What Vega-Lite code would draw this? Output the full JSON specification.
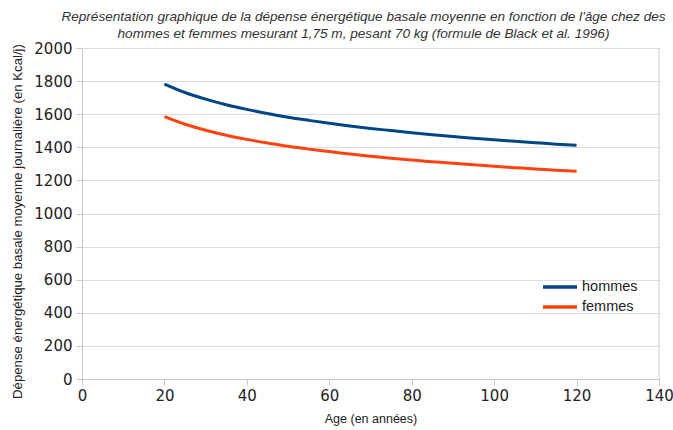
{
  "$schema": "https://vega.github.io/schema/vega-lite/v6.json",
  "width": 577,
  "height": 331,
  "autosize": {"type": "none"},
  "padding": {"left": 82, "top": 48, "right": 14, "bottom": 51},
  "background": "white",
  "title": {
    "text": ["Représentation graphique de la dépense énergétique basale moyenne en fonction de l'âge chez des", "hommes et femmes mesurant 1,75 m, pesant 70 kg (formule de Black et al. 1996)"],
    "font": "Liberation Sans",
    "fontSize": 13.6,
    "fontStyle": "italic",
    "fontWeight": "normal",
    "color": "#333333",
    "anchor": "middle",
    "offset": 0,
    "lineHeight": 17,
    "dx": -7
  },
  "config": {
    "view": {"stroke": null},
    "font": "Liberation Sans"
  },
  "data": {
    "values": [
      {"age": 20, "sexe": "hommes", "depense": 1782},
      {"age": 25, "sexe": "hommes", "depense": 1731},
      {"age": 30, "sexe": "hommes", "depense": 1691},
      {"age": 35, "sexe": "hommes", "depense": 1657},
      {"age": 40, "sexe": "hommes", "depense": 1629},
      {"age": 45, "sexe": "hommes", "depense": 1604},
      {"age": 50, "sexe": "hommes", "depense": 1582},
      {"age": 55, "sexe": "hommes", "depense": 1563},
      {"age": 60, "sexe": "hommes", "depense": 1545},
      {"age": 65, "sexe": "hommes", "depense": 1529},
      {"age": 70, "sexe": "hommes", "depense": 1514},
      {"age": 75, "sexe": "hommes", "depense": 1501},
      {"age": 80, "sexe": "hommes", "depense": 1488},
      {"age": 85, "sexe": "hommes", "depense": 1476},
      {"age": 90, "sexe": "hommes", "depense": 1465},
      {"age": 95, "sexe": "hommes", "depense": 1455},
      {"age": 100, "sexe": "hommes", "depense": 1445},
      {"age": 105, "sexe": "hommes", "depense": 1436},
      {"age": 110, "sexe": "hommes", "depense": 1428},
      {"age": 115, "sexe": "hommes", "depense": 1419},
      {"age": 120, "sexe": "hommes", "depense": 1412},
      {"age": 20, "sexe": "femmes", "depense": 1585},
      {"age": 25, "sexe": "femmes", "depense": 1539},
      {"age": 30, "sexe": "femmes", "depense": 1503},
      {"age": 35, "sexe": "femmes", "depense": 1473},
      {"age": 40, "sexe": "femmes", "depense": 1448},
      {"age": 45, "sexe": "femmes", "depense": 1426},
      {"age": 50, "sexe": "femmes", "depense": 1406},
      {"age": 55, "sexe": "femmes", "depense": 1389},
      {"age": 60, "sexe": "femmes", "depense": 1374},
      {"age": 65, "sexe": "femmes", "depense": 1359},
      {"age": 70, "sexe": "femmes", "depense": 1346},
      {"age": 75, "sexe": "femmes", "depense": 1334},
      {"age": 80, "sexe": "femmes", "depense": 1323},
      {"age": 85, "sexe": "femmes", "depense": 1313},
      {"age": 90, "sexe": "femmes", "depense": 1303},
      {"age": 95, "sexe": "femmes", "depense": 1294},
      {"age": 100, "sexe": "femmes", "depense": 1285},
      {"age": 105, "sexe": "femmes", "depense": 1277},
      {"age": 110, "sexe": "femmes", "depense": 1269},
      {"age": 115, "sexe": "femmes", "depense": 1262},
      {"age": 120, "sexe": "femmes", "depense": 1255}
    ]
  },
  "layer": [
    {
      "mark": {"type": "rule", "color": "#d0d0d0", "strokeWidth": 1},
      "data": {"values": [{"x": 140}]},
      "encoding": {"x": {"field": "x", "type": "quantitative"}}
    },
    {
      "mark": {"type": "line", "strokeWidth": 3, "interpolate": "monotone"},
      "encoding": {
        "x": {
          "field": "age",
          "type": "quantitative",
          "scale": {"domain": [0, 140], "nice": false},
          "axis": {
            "title": "Age (en années)",
            "titleFont": "Liberation Sans",
            "titleFontSize": 12.5,
            "titleFontWeight": "normal",
            "titleColor": "#222222",
            "titlePadding": 9,
            "values": [0, 20, 40, 60, 80, 100, 120, 140],
            "format": "d",
            "labelFlush": false,
            "labelFont": "DejaVu Sans",
            "labelFontSize": 15,
            "labelColor": "#222222",
            "labelPadding": 3,
            "domainColor": "#c8c8c8",
            "tickColor": "#c8c8c8",
            "tickSize": 6,
            "grid": false
          }
        },
        "y": {
          "field": "depense",
          "type": "quantitative",
          "scale": {"domain": [0, 2000], "nice": false},
          "axis": {
            "title": "Dépense énergétique basale moyenne journalière (en Kcal/j)",
            "titleFont": "Liberation Sans",
            "titleFontSize": 13.2,
            "titleFontWeight": "normal",
            "titleColor": "#222222",
            "titlePadding": 9,
            "titleY": 173,
            "values": [0, 200, 400, 600, 800, 1000, 1200, 1400, 1600, 1800, 2000],
            "format": "d",
            "labelFlush": false,
            "labelFont": "DejaVu Sans",
            "labelFontSize": 15,
            "labelColor": "#222222",
            "labelPadding": 4,
            "domainColor": "#c8c8c8",
            "tickColor": "#c8c8c8",
            "tickSize": 6,
            "grid": true,
            "gridColor": "#dcdcdc"
          }
        },
        "color": {
          "field": "sexe",
          "type": "nominal",
          "scale": {"domain": ["hommes", "femmes"], "range": ["#004586", "#ff420e"]},
          "legend": {
            "title": null,
            "orient": "none",
            "legendX": 459,
            "legendY": 231,
            "symbolType": "stroke",
            "symbolSize": 1156,
            "symbolStrokeWidth": 3.5,
            "clipHeight": 16,
            "labelFontSize": 14.5,
            "labelColor": "#222222",
            "labelOffset": 3,
            "rowPadding": 4
          }
        }
      }
    }
  ]
}
